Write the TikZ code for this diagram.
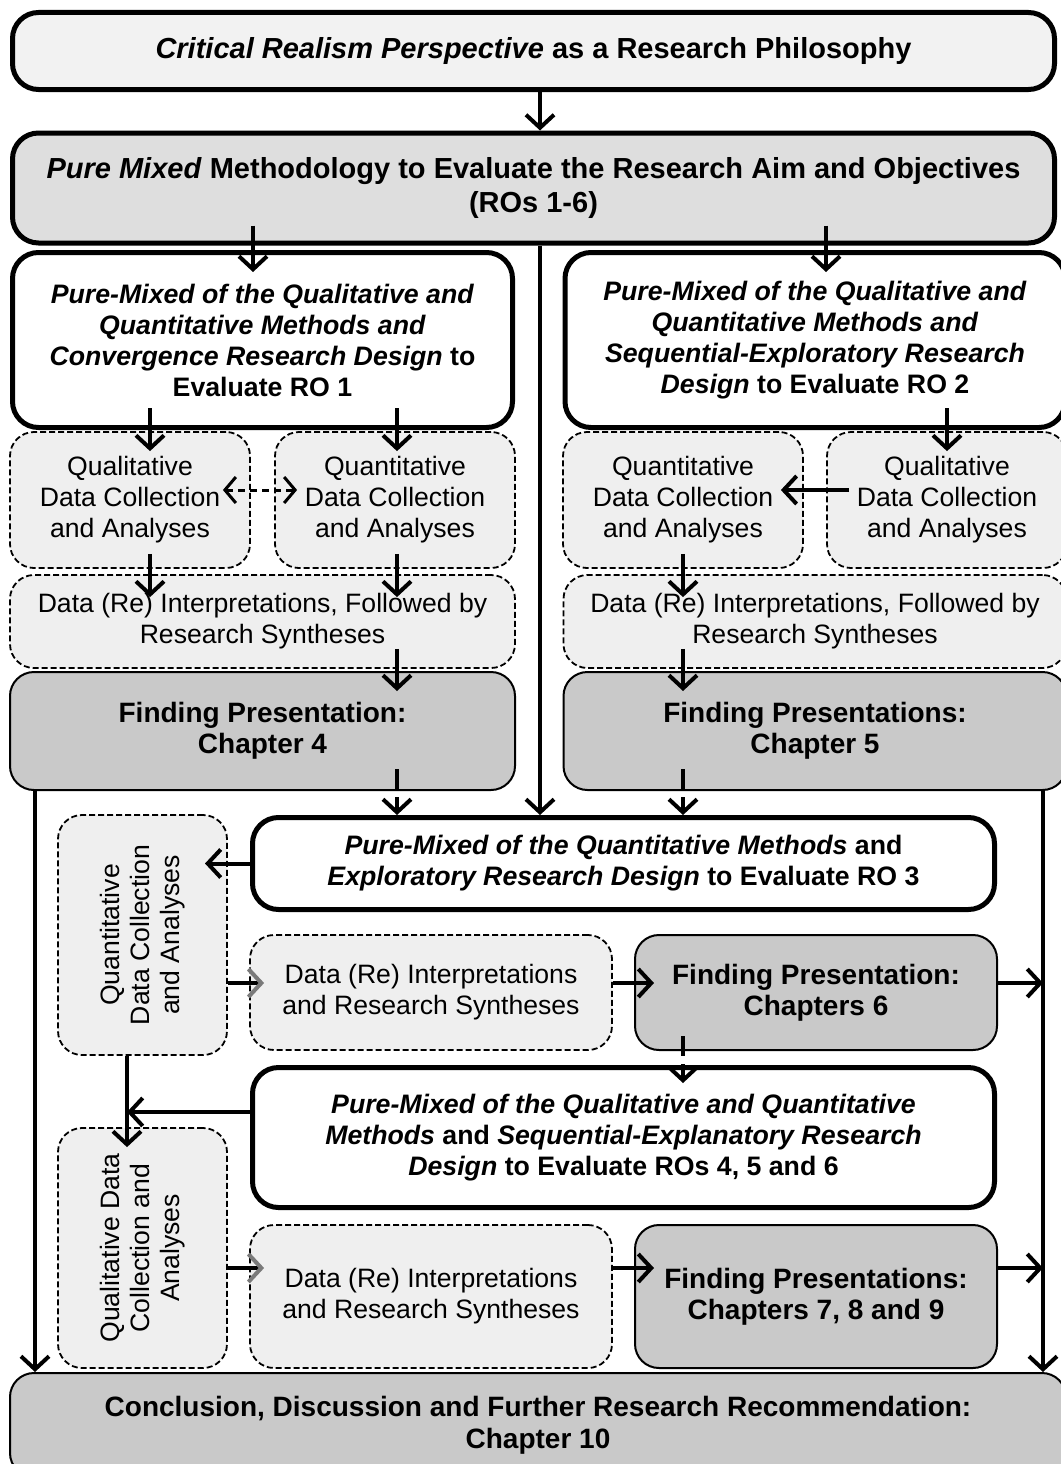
\documentclass[tikz,border=0pt]{standalone}
\usepackage{fontspec}
\setmainfont{Liberation Sans}
\usetikzlibrary{arrows.meta,calc}
\definecolor{fillA}{HTML}{F2F2F2}
\definecolor{fillB}{HTML}{DEDEDE}
\definecolor{fillC}{HTML}{EFEFEF}
\definecolor{fillD}{HTML}{C9C9C9}
\definecolor{tipgray}{HTML}{7A7A7A}
\begin{document}
\begin{tikzpicture}[x=1pt,y=-1pt,
  font=\fontsize{26.6}{31}\selectfont,
  heavy/.style={draw, line width=5pt, rounded corners=26pt, align=center, inner sep=0pt, font=\fontsize{26.7}{31}\selectfont\bfseries},
  dbox/.style={draw, line width=1.8pt, dash pattern=on 6pt off 3pt, fill=fillC, rounded corners=24pt, align=center, inner sep=0pt},
  fbox/.style={draw, line width=2pt, fill=fillD, rounded corners=24pt, align=center, inner sep=0pt, font=\fontsize{28}{31.5}\selectfont\bfseries},
  arr/.style={line width=4pt, -{Straight Barb[length=13pt,width=28pt]}},
  darr/.style={arr, dash pattern=on 20pt off 8pt},
  garr/.style={line width=4pt, -{Straight Barb[length=13pt,width=28pt,color=tipgray]}},
  barr/.style={line width=3pt, dash pattern=on 7pt off 5pt, {Straight Barb[length=11pt,width=26pt]}-{Straight Barb[length=11pt,width=26pt]}}
]
\useasboundingbox (0,0) rectangle (1060,1464);
% column / row coordinates
\coordinate (xa) at (150,0);
\coordinate (xb) at (253,0);
\coordinate (xc) at (397,0);
\coordinate (xm) at (540,0);
\coordinate (xd) at (683,0);
\coordinate (xe) at (826,0);
\coordinate (xf) at (947,0);
\coordinate (xl) at (35,0);
\coordinate (xr) at (1043,0);
\coordinate (xq) at (127,0);
\coordinate (xq2) at (205,0);
\coordinate (y6) at (0,983);
\coordinate (y7) at (0,1268);
\coordinate (y4) at (0,1112);

% boxes
\node[heavy, fill=fillA, minimum width=1042, minimum height=77, font=\fontsize{29}{33}\selectfont\bfseries] (top) at (533.5,51)
  {\textit{Critical Realism Perspective} as a Research Philosophy};
\node[heavy, fill=fillB, minimum width=1042, minimum height=110, font=\fontsize{29}{33}\selectfont\bfseries] (box2) at (533.5,188)
  {\textit{Pure Mixed} Methodology to Evaluate the Research Aim and Objectives\\(ROs 1-6)};
\node[heavy, fill=white, minimum width=500, minimum height=175] (ro1) at (262.5,340)
  {\textit{Pure-Mixed of the Qualitative and}\\\textit{Quantitative Methods and}\\\textit{Convergence Research Design} to\\Evaluate RO 1};
\node[heavy, fill=white, minimum width=500, minimum height=175] (ro2) at (815,340)
  {\textit{Pure-Mixed of the Qualitative and}\\\textit{Quantitative Methods and}\\\textit{Sequential-Exploratory Research}\\\textit{Design} to Evaluate RO 2};

\node[dbox, minimum width=240, minimum height=136] (ql1) at (130,500) {Qualitative\\Data Collection\\and Analyses};
\node[dbox, minimum width=240, minimum height=136] (qn1) at (395,500) {Quantitative\\Data Collection\\and Analyses};
\node[dbox, minimum width=240, minimum height=136] (qn2) at (683,500) {Quantitative\\Data Collection\\and Analyses};
\node[dbox, minimum width=240, minimum height=136] (ql2) at (947,500) {Qualitative\\Data Collection\\and Analyses};

\node[dbox, minimum width=505, minimum height=93] (in1) at (262.5,621.5) {Data (Re) Interpretations, Followed by\\Research Syntheses};
\node[dbox, minimum width=503, minimum height=93] (in2) at (815,621.5) {Data (Re) Interpretations, Followed by\\Research Syntheses};

\node[fbox, minimum width=505, minimum height=118] (f4) at (262.5,731) {Finding Presentation:\\Chapter 4};
\node[fbox, minimum width=503, minimum height=118] (f5) at (815,731) {Finding Presentations:\\Chapter 5};

\node[heavy, fill=white, minimum width=742, minimum height=92] (ro3) at (623.5,863.5)
  {\textit{Pure-Mixed of the Quantitative Methods} and\\\textit{Exploratory Research Design} to Evaluate RO 3};

\node[dbox, minimum width=169, minimum height=240] (qnv) at (142.5,935) {};
\node[rotate=90, align=center, inner sep=0pt, font=\fontsize{26.6}{30}\selectfont] (qnvt) at (qnv.center) {Quantitative\\Data Collection\\and Analyses};

\node[dbox, minimum width=362, minimum height=115] (in3) at (431,992.5) {Data (Re) Interpretations\\and Research Syntheses};
\node[fbox, minimum width=362, minimum height=115] (f6) at (816,992.5) {Finding Presentation:\\Chapters 6};

\node[heavy, fill=white, minimum width=742, minimum height=140] (ro4) at (623.5,1137.5)
  {\textit{Pure-Mixed of the Qualitative and Quantitative}\\\textit{Methods} and \textit{Sequential-Explanatory Research}\\\textit{Design} to Evaluate ROs 4, 5 and 6};

\node[dbox, minimum width=169, minimum height=240] (qlv) at (142.5,1248) {};
\node[rotate=90, align=center, inner sep=0pt, font=\fontsize{26.6}{30}\selectfont] (qlvt) at (qlv.center) {Qualitative Data\\Collection and\\Analyses};

\node[dbox, minimum width=362, minimum height=143] (in4) at (431,1296.5) {Data (Re) Interpretations\\and Research Syntheses};
\node[fbox, minimum width=362, minimum height=143] (f7) at (816,1296.5) {Finding Presentations:\\Chapters 7, 8 and 9};

\node[fbox, minimum width=1056, minimum height=104] (conc) at (538,1425)
  {Conclusion, Discussion and Further Research Recommendation:\\Chapter 10};

% connectors
\draw[arr] (top.south -| xm) -- (box2.north -| xm);
\draw[arr] ($(box2.south -| xb)+(0,-20)$) -- ($(ro1.north -| xb)+(0,22)$);
\draw[arr] ($(box2.south -| xe)+(0,-20)$) -- ($(ro2.north -| xe)+(0,22)$);
\draw[arr] (box2.south -| xm) -- (ro3.north -| xm);

\draw[arr] ($(ro1.south -| xa)+(0,-22)$) -- ($(ql1.north -| xa)+(0,20)$);
\draw[arr] ($(ro1.south -| xc)+(0,-22)$) -- ($(qn1.north -| xc)+(0,20)$);
\draw[arr] ($(ro2.south -| xf)+(0,-22)$) -- ($(ql2.north -| xf)+(0,20)$);

\draw[barr] ($(ql1.east)+(-28,-10)$) -- ($(qn1.west)+(23,-10)$);
\draw[arr] ($(ql2.west)+(23,-10)$) -- ($(qn2.east)+(-23,-10)$);

\draw[arr] ($(ql1.south -| xa)+(0,-15)$) -- ($(in1.north -| xa)+(0,23)$);
\draw[arr] ($(qn1.south -| xc)+(0,-15)$) -- ($(in1.north -| xc)+(0,23)$);
\draw[arr] ($(qn2.south -| xd)+(0,-15)$) -- ($(in2.north -| xd)+(0,23)$);

\draw[arr] ($(in1.south -| xc)+(0,-20)$) -- ($(f4.north -| xc)+(0,20)$);
\draw[arr] ($(in2.south -| xd)+(0,-20)$) -- ($(f5.north -| xd)+(0,20)$);

\draw[darr] ($(f4.south -| xc)+(0,-22)$) -- (ro3.north -| xc);
\draw[darr] ($(f5.south -| xd)+(0,-22)$) -- (ro3.north -| xd);

\draw[arr] (f4.south -| xl) -- (conc.north -| xl);
\draw[arr] (f5.south -| xr) -- (conc.north -| xr);

\draw[arr] (ro3.west) -- (ro3.west -| xq2);
\draw[garr] (qnv.east |- y6) -- ($(in3.west |- y6)+(15,0)$);
\draw[arr] (in3.east |- y6) -- ($(f6.west |- y6)+(20,0)$);
\draw[arr] (f6.east |- y6) -- (xr |- y6);

\draw[darr] ($(f6.south -| xd)+(0,-15)$) -- ($(ro4.north -| xd)+(0,18)$);

\draw[arr] (ro4.west |- y4) -- (xq |- y4);
\draw[arr] (qnv.south -| xq) -- ($(qlv.north -| xq)+(0,20)$);

\draw[garr] (qlv.east |- y7) -- ($(in4.west |- y7)+(15,0)$);
\draw[arr] (in4.east |- y7) -- ($(f7.west |- y7)+(20,0)$);
\draw[arr] (f7.east |- y7) -- (xr |- y7);
\end{tikzpicture}
\end{document}
